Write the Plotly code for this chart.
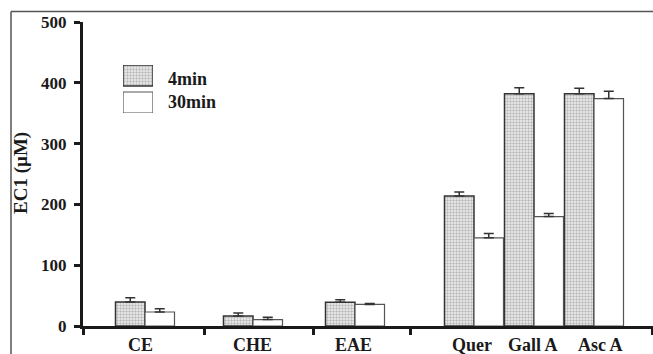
import plotly.graph_objects as go

# ---- data ----
categories = ["CE", "CHE", "EAE", "Quer", "Gall A", "Asc A"]
val_4min = [39.5, 16.5, 39, 214, 382, 382]
err_4min = [7, 5, 4, 6.5, 10, 9]
val_30min = [23, 10.5, 35.5, 145, 180, 374]
err_30min = [5.5, 4, 1.5, 7, 5, 12]
series_names = ["4min", "30min"]
y_ticks = [0, 100, 200, 300, 400, 500]

# ---- layout positions (axis units) ----
group_centers = [145, 253, 355, 474, 534, 594]
label_pos = [140, 252, 353, 472, 533, 600]
sep_ticks = [83, 204, 313, 410, 652]
bar_w = 29.5

W, H = 653, 354
L, R, T, B = 83, 0, 22, 28
PW, PH = W - L - R, H - T - B

def px_x(px):
    return (px - L) / PW

def px_y(py):
    return (H - B - py) / PH

FONT = "Liberation Serif"
pattern4 = dict(shape=".", size=3, solidity=0.5, fgcolor="#808080", bgcolor="#f2f2f2")

fig = go.Figure()
fig.add_trace(go.Bar(
    x=[c - bar_w / 2 for c in group_centers], y=val_4min, width=bar_w,
    name=series_names[0],
    marker=dict(color="#f2f2f2", pattern=pattern4, line=dict(color="#333333", width=1.5)),
    error_y=dict(type="data", symmetric=False, array=err_4min, arrayminus=[0] * 6,
                 color="#333333", thickness=1.5, width=5),
    showlegend=False,
))
fig.add_trace(go.Bar(
    x=[c + bar_w / 2 for c in group_centers], y=val_30min, width=bar_w,
    name=series_names[1],
    marker=dict(color="white", line=dict(color="#555555", width=1.2)),
    error_y=dict(type="data", symmetric=False, array=err_30min, arrayminus=[0] * 6,
                 color="#333333", thickness=1.5, width=5),
    showlegend=False,
))

# ---- custom legend swatches on a separate small axis ----
lx0, lx1, ly0, ly1 = 123, 153, 65, 113
fig.add_trace(go.Bar(
    x=[0.5], y=[21], base=[27], width=[1], xaxis="x2", yaxis="y2",
    marker=dict(color="#f2f2f2", pattern=pattern4, line=dict(color="#333333", width=1.5)),
    showlegend=False, hoverinfo="skip",
))
fig.add_trace(go.Bar(
    x=[0.5], y=[21], base=[0], width=[1], xaxis="x2", yaxis="y2",
    marker=dict(color="white", line=dict(color="#555555", width=1.2)),
    showlegend=False, hoverinfo="skip",
))

annotations = []
for lab, xp in zip(categories, label_pos):
    annotations.append(dict(x=xp, y=px_y(345), xref="x", yref="paper", text=lab,
                            showarrow=False, xanchor="center", yanchor="middle",
                            font=dict(family=FONT, size=18, color="#1a1a1a", weight="bold")))
annotations.append(dict(x=px_x(166), y=px_y(79), xref="paper", yref="paper", text=series_names[0],
                        showarrow=False, xanchor="left", yanchor="middle",
                        font=dict(family=FONT, size=18, color="#1a1a1a", weight="bold")))
annotations.append(dict(x=px_x(166), y=px_y(102), xref="paper", yref="paper", text=series_names[1],
                        showarrow=False, xanchor="left", yanchor="middle",
                        font=dict(family=FONT, size=18, color="#1a1a1a", weight="bold")))
annotations.append(dict(x=px_x(21), y=px_y(173), xref="paper", yref="paper", text="EC1 (µM)",
                        showarrow=False, textangle=-90, xanchor="center", yanchor="middle",
                        font=dict(family=FONT, size=19, color="#1a1a1a", weight="bold")))

shapes = [
    dict(type="line", xref="paper", yref="paper", x0=px_x(11), x1=px_x(653),
         y0=px_y(11.5), y1=px_y(11.5), line=dict(color="#555555", width=1.5)),
    dict(type="line", xref="paper", yref="paper", x0=px_x(11), x1=px_x(11),
         y0=px_y(11.5), y1=px_y(354), line=dict(color="#555555", width=1.5)),
]

fig.update_layout(
    width=W, height=H,
    margin=dict(l=L, r=R, t=T, b=B),
    paper_bgcolor="white", plot_bgcolor="white",
    barmode="overlay",
    xaxis=dict(range=[L, W], showgrid=False, zeroline=False, showline=True,
               linecolor="#1a1a1a", linewidth=3, tickmode="array", tickvals=sep_ticks,
               ticktext=[""] * len(sep_ticks), ticks="outside", ticklen=6, tickwidth=3,
               tickcolor="#1a1a1a", fixedrange=True),
    yaxis=dict(range=[0, 500], showgrid=False, zeroline=False, showline=True,
               linecolor="#1a1a1a", linewidth=3, tickmode="array", tickvals=y_ticks,
               ticks="outside", ticklen=6, tickwidth=3, tickcolor="#1a1a1a",
               tickfont=dict(family=FONT, size=17, color="#1a1a1a", weight="bold"),
               ticklabelstandoff=4, fixedrange=True),
    xaxis2=dict(domain=[px_x(lx0), px_x(lx1)], range=[0, 1], visible=False,
                anchor="y2", fixedrange=True),
    yaxis2=dict(domain=[px_y(ly1), px_y(ly0)], range=[0, 48], visible=False,
                anchor="x2", fixedrange=True),
    annotations=annotations,
    shapes=shapes,
)

fig.write_html("out.html", config={"displayModeBar": False},
               post_script="document.body.style.margin='0';document.body.style.overflow='hidden';")
